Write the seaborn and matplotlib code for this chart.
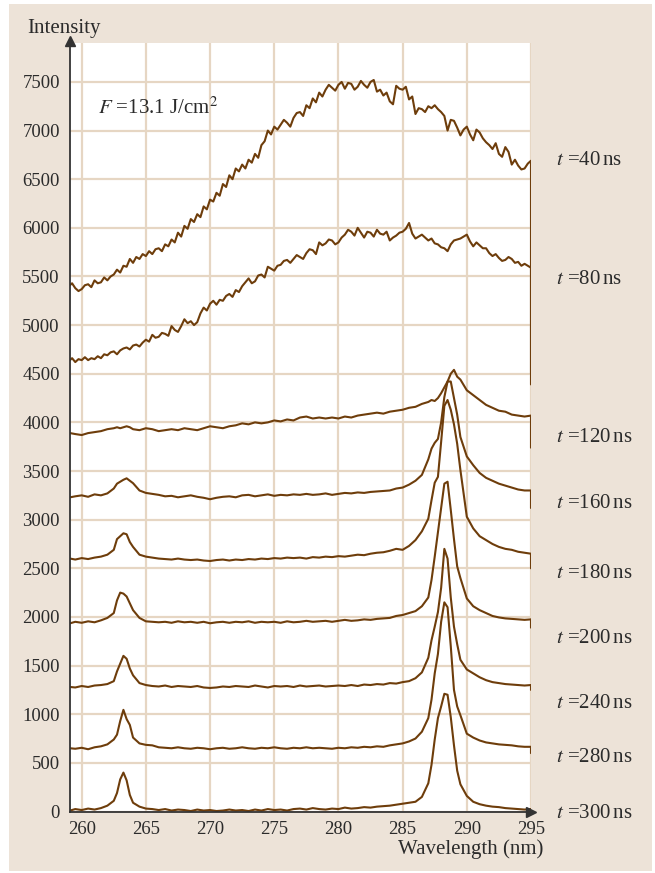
import numpy as np
import pandas as pd
import seaborn as sns
import matplotlib.pyplot as plt
from matplotlib.patches import Rectangle

# ---- wavelength sampling (nm) ----
# early, continuum-dominated spectra: uniform 0.25 nm steps
wl_fine = np.concatenate([np.arange(259.0, 295.01, 0.25), [295.0]])
# later spectra: coarse on the flat baseline, finer across the Si lines
wl = np.concatenate([
    [259.1],
    np.arange(259.5, 262.51, 0.5),
    np.arange(262.75, 264.01, 0.25),
    np.arange(264.5, 287.01, 0.5),
    np.arange(287.25, 289.51, 0.25),
    np.arange(290.0, 295.01, 0.5),
    [295.0],
])

# ---- spectra (counts) for each gate delay ----
i_40ns = [5400, 5430, 5380, 5350, 5370, 5410, 5420, 5390,
          5460, 5430, 5440, 5490, 5460, 5500, 5520, 5570,
          5540, 5610, 5600, 5680, 5640, 5700, 5680, 5730,
          5710, 5760, 5730, 5780, 5790, 5760, 5830, 5810,
          5880, 5850, 5950, 5910, 6020, 5990, 6090, 6060,
          6140, 6110, 6220, 6190, 6290, 6270, 6360, 6330,
          6450, 6420, 6540, 6500, 6610, 6580, 6650, 6610,
          6700, 6670, 6760, 6720, 6850, 6890, 7000, 6960,
          7040, 7010, 7060, 7110, 7080, 7040, 7130, 7180,
          7190, 7150, 7260, 7230, 7330, 7290, 7390, 7350,
          7420, 7470, 7440, 7410, 7470, 7500, 7430, 7490,
          7480, 7420, 7450, 7510, 7470, 7440, 7500, 7520,
          7400, 7420, 7360, 7390, 7300, 7270, 7460, 7430,
          7420, 7450, 7320, 7350, 7170, 7230, 7220, 7190,
          7250, 7230, 7260, 7220, 7190, 7150, 7000, 7110,
          7100, 7030, 6950, 7010, 7040, 6960, 6900, 7010,
          6980, 6920, 6880, 6850, 6810, 6870, 6760, 6730,
          6830, 6780, 6650, 6700, 6640, 6600, 6610, 6660,
          6690, 4390]
i_80ns = [4630, 4660, 4620, 4650, 4640, 4670, 4640, 4660,
          4650, 4680, 4660, 4700, 4690, 4720, 4730, 4700,
          4740, 4760, 4770, 4750, 4790, 4800, 4780, 4820,
          4850, 4830, 4900, 4870, 4880, 4920, 4910, 4890,
          4990, 4950, 4930, 4990, 5060, 5020, 5040, 5000,
          5030, 5120, 5180, 5150, 5220, 5250, 5210, 5260,
          5250, 5300, 5320, 5290, 5360, 5340, 5400, 5440,
          5480, 5430, 5450, 5510, 5520, 5490, 5600, 5580,
          5560, 5610, 5620, 5660, 5670, 5640, 5680, 5720,
          5700, 5680, 5740, 5780, 5770, 5730, 5850, 5820,
          5840, 5880, 5870, 5830, 5850, 5900, 5930, 5980,
          5960, 5920, 6000, 5950, 5900, 5960, 5950, 5910,
          5980, 5940, 5930, 5960, 5870, 5900, 5920, 5950,
          5960, 5990, 6050, 5940, 5890, 5910, 5930, 5900,
          5870, 5890, 5840, 5830, 5800, 5790, 5760, 5830,
          5870, 5880, 5890, 5910, 5930, 5860, 5810, 5850,
          5820, 5790, 5790, 5740, 5710, 5730, 5690, 5660,
          5670, 5700, 5680, 5640, 5650, 5610, 5630, 5610,
          5590, 4500]
i_120ns = [3890, 3880, 3870, 3890, 3900, 3910, 3930, 3940,
           3950, 3940, 3950, 3960, 3950, 3930,
           3920, 3940, 3930, 3910, 3920, 3930, 3920, 3940, 3930, 3920,
           3940, 3960, 3950, 3940, 3960, 3970, 3990, 3980, 4000, 3990,
           4000, 4020, 4010, 4030, 4020, 4050, 4060, 4040, 4050, 4040,
           4050, 4040, 4060, 4050, 4070, 4080, 4090, 4100, 4090, 4110,
           4120, 4130, 4150, 4160, 4190, 4210,
           4230, 4220, 4250, 4300, 4360, 4420, 4500, 4540, 4470, 4440,
           4330, 4280, 4230, 4180, 4150, 4120, 4110, 4080, 4070, 4060, 4070,
           3740]
i_160ns = [3230, 3240, 3250, 3235, 3260, 3250, 3270, 3320,
           3370, 3390, 3410, 3425, 3400, 3375,
           3300, 3275, 3265, 3255, 3240, 3245, 3230, 3240, 3250, 3235,
           3225, 3210, 3225, 3235, 3240, 3230, 3250, 3255, 3240, 3250,
           3260, 3245, 3255, 3250, 3260, 3255, 3265, 3255, 3260, 3270,
           3255, 3265, 3275, 3270, 3280, 3275, 3285, 3290, 3295, 3300,
           3320, 3330, 3360, 3400, 3460, 3620,
           3730, 3790, 3830, 4000, 4260, 4420, 4420, 4250, 4080, 3850,
           3650, 3560, 3480, 3430, 3400, 3370, 3350, 3330, 3310, 3300, 3300,
           3120]
i_180ns = [2600, 2590, 2605, 2595, 2610, 2620, 2640, 2690,
           2800, 2830, 2860, 2850, 2770, 2720,
           2640, 2620, 2610, 2600, 2595, 2590, 2600, 2590, 2585, 2590,
           2580, 2575, 2585, 2590, 2580, 2590, 2585, 2595, 2590, 2600,
           2595, 2605, 2600, 2610, 2605, 2610, 2600, 2615, 2610, 2620,
           2615, 2625, 2620, 2630, 2640, 2635, 2650, 2660, 2665, 2680,
           2700, 2690, 2730, 2790, 2880, 3010,
           3200, 3380, 3440, 3800, 4170, 4230, 4130, 3980, 3780, 3510,
           3030, 2910, 2830, 2790, 2750, 2720, 2700, 2690, 2670, 2660, 2650,
           2500]
i_200ns = [1935, 1950, 1940, 1955, 1945, 1965, 1990, 2040,
           2170, 2250, 2240, 2210, 2140, 2070,
           1990, 1955, 1950, 1945, 1950, 1940, 1955, 1945, 1950, 1940,
           1950, 1935, 1945, 1950, 1940, 1950, 1945, 1955, 1940, 1950,
           1945, 1950, 1940, 1955, 1945, 1950, 1960, 1950, 1955, 1960,
           1950, 1960, 1970, 1960, 1965, 1975, 1970, 1980, 1985, 1990,
           2010, 2020, 2040, 2060, 2110, 2200,
           2380, 2620, 2870, 3120, 3370, 3390, 3100, 2800, 2520, 2400,
           2190, 2110, 2070, 2040, 2010, 1995, 1985, 1980, 1975, 1970, 1975,
           1890]
i_240ns = [1280, 1275, 1290, 1280, 1295, 1300, 1310, 1340,
           1440, 1520, 1600, 1570, 1470, 1400,
           1320, 1300, 1290, 1285, 1295, 1280, 1290, 1285, 1280, 1290,
           1275, 1270, 1275, 1285, 1280, 1290, 1285, 1280, 1295, 1285,
           1275, 1290, 1285, 1290, 1280, 1295, 1285, 1290, 1295, 1285,
           1290, 1295, 1290, 1300, 1290, 1305, 1300, 1310, 1305, 1320,
           1315, 1330, 1340, 1370, 1430, 1580,
           1760, 1900, 2050, 2300, 2700, 2600, 2200, 1900, 1720, 1560,
           1460, 1420, 1380, 1350, 1330, 1320, 1310, 1305, 1300, 1295, 1300,
           1250]
i_280ns = [650, 645, 655, 640, 660, 670, 690, 740,
           790, 930, 1045, 950, 890, 760,
           700, 685, 680, 660, 655, 650, 660, 650, 645, 655,
           650, 640, 650, 655, 645, 650, 660, 650, 645, 655,
           650, 660, 650, 645, 655, 650, 660, 650, 655, 650,
           645, 655, 650, 660, 655, 665, 660, 670, 665, 680,
           690, 700, 720, 750, 820, 960,
           1150, 1420, 1620, 1950, 2150, 2100, 1700, 1250, 1080, 990,
           800, 760, 730, 710, 700, 690, 685, 680, 670, 665, 665,
           600]
i_300ns = [10, 25, 15, 30, 20, 35, 60, 110,
           190, 330, 400, 320, 170, 90,
           50, 30, 25, 15, 25, 10, 20, 15, 5, 20,
           10, 15, 5, 10, 20, 10, 15, 5, 20, 10,
           25, 15, 20, 10, 25, 30, 20, 35, 25, 20,
           30, 25, 40, 30, 35, 45, 40, 50, 55, 60,
           70, 80, 90, 100, 150, 290,
           480, 740, 960, 1080, 1210, 1200, 970, 680, 420, 280,
           160, 100, 75, 60, 50, 45, 35, 30, 25, 20, 25,
           0]

delays = [40, 80, 120, 160, 180, 200, 240, 280, 300]
spectra = [i_40ns, i_80ns, i_120ns, i_160ns, i_180ns, i_200ns, i_240ns, i_280ns, i_300ns]
grids = [wl_fine, wl_fine, wl, wl, wl, wl, wl, wl, wl]
label_y = [6690, 5470, 3840, 3170, 2450, 1780, 1110, 555, -20]

y_ticks = list(range(0, 7501, 500))
x_tick_labels = [str(v) for v in range(260, 296, 5)]

# ---- styling ----
BROWN = "#6e3d0b"
GRID = "#e6d6c3"
PANEL = "#ede3d8"
AXIS = "#333333"
TEXT = "#2b2b2b"

sns.set_theme(style="white")
plt.rcParams["font.family"] = ["Liberation Serif", "DejaVu Serif"]
plt.rcParams["mathtext.fontset"] = "stix"

df = pd.concat(
    [pd.DataFrame({"wavelength": g, "intensity": s, "delay": d})
     for d, s, g in zip(delays, spectra, grids)],
    ignore_index=True,
)

fig = plt.figure(figsize=(6.55, 8.73), dpi=100)
fig.patch.set_facecolor("white")
fig.patches.append(Rectangle((9 / 655, 2 / 873), 643 / 655, 867 / 873,
                             transform=fig.transFigure, facecolor=PANEL,
                             edgecolor="none", zorder=-10))

ax = fig.add_axes([69.5 / 655, 1 - 811.5 / 873, 461.5 / 655, 768.5 / 873])
ax.set_facecolor("white")

sns.lineplot(data=df, x="wavelength", y="intensity", units="delay",
             estimator=None, sort=False, color=BROWN, lw=1.5, ax=ax,
             legend=False, zorder=3)

ax.set_xlim(259.05, 295.0)
ax.set_ylim(0, 7900)
ax.set_xticks(list(range(260, 296, 5)))
ax.set_xticklabels(x_tick_labels)
ax.set_yticks(y_ticks)
ax.set_yticklabels([str(v) for v in y_ticks])
ax.set_xticks(np.arange(262.5, 295, 5), minor=True)
ax.set_yticks(np.arange(250, 7900, 500), minor=True)

ax.grid(True, which="major", color=GRID, lw=1.6, zorder=0)
ax.set_axisbelow(True)
ax.tick_params(which="major", length=0, labelsize=13.5, labelcolor=TEXT, pad=7)
ax.tick_params(which="minor", direction="in", length=6, width=1.5, color=GRID)

for side in ("top", "right"):
    ax.spines[side].set_visible(False)
for side in ("left", "bottom"):
    ax.spines[side].set_color(AXIS)
    ax.spines[side].set_linewidth(1.3)
    ax.spines[side].set_zorder(5)

# arrow heads on the axes
ax.plot([0], [1.003], marker="^", ms=7, color=AXIS, transform=ax.transAxes, clip_on=False, zorder=6)
ax.plot([1.0], [0], marker=">", ms=7, color=AXIS, transform=ax.transAxes, clip_on=False, zorder=6)

ax.set_xlabel("")
ax.set_ylabel("")

for d, y in zip(delays, label_y):
    ax.text(296.95, y, rf"$t$ ={d}$\,$ns", fontsize=15, color=TEXT,
            va="center", ha="left", clip_on=False)

ax.text(261.3, 7230, r"$F$ =13.1 J/cm$^2$", fontsize=15, color=TEXT,
        va="center", ha="left")

fig.text(27 / 655, 1 - 28 / 873, "Intensity", fontsize=15, color=TEXT,
         ha="left", va="center")
fig.text(471 / 655, 1 - 849 / 873, "Wavelength (nm)", fontsize=15, color=TEXT,
         ha="center", va="center")

fig.savefig("out.png", dpi=100, facecolor=fig.get_facecolor())
